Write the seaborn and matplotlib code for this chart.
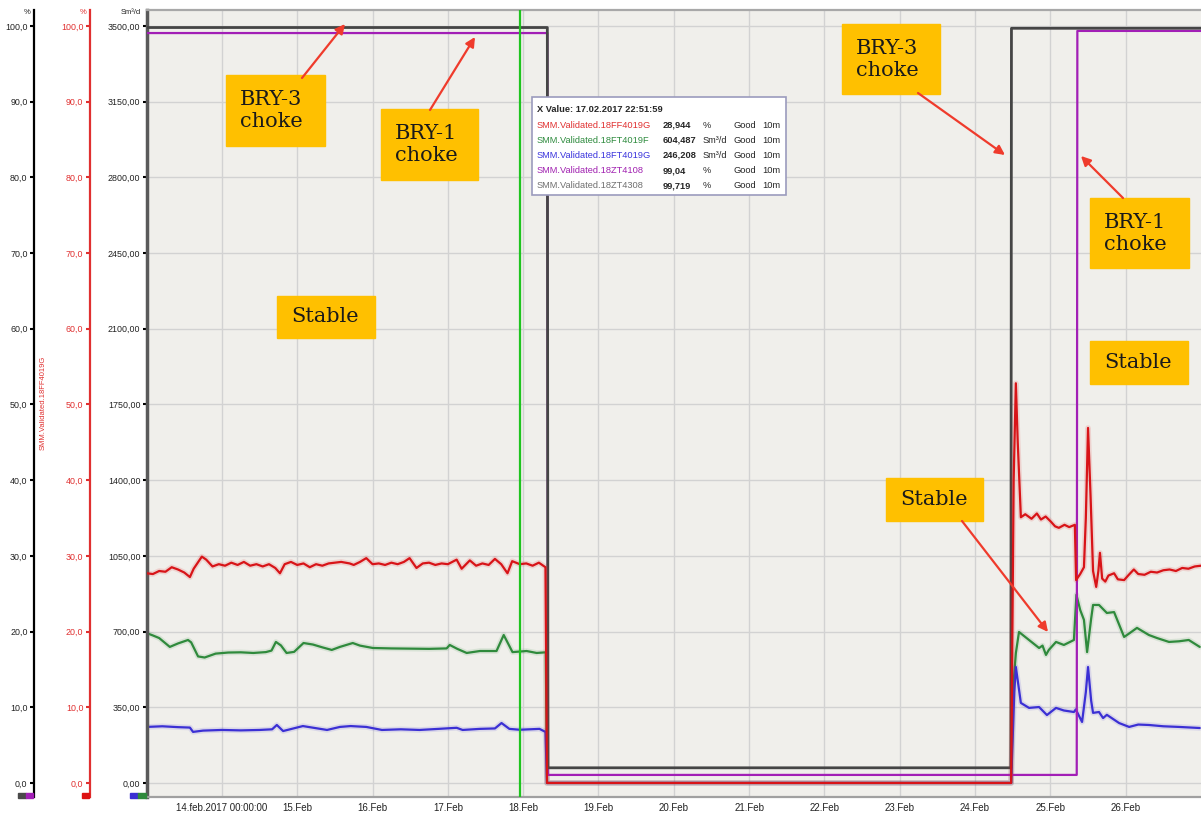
import pandas as pd
import matplotlib
matplotlib.use("Agg")
import matplotlib.pyplot as plt
from matplotlib.patches import Rectangle, FancyArrowPatch
import seaborn as sns

W_PX, H_PX = 1201, 814
START = pd.Timestamp("2017-02-13 00:00")
CURSOR = pd.Timestamp("2017-02-17 22:51:59")

# (hours since 13.02.2017 00:00, value)
red_pct = [
    (0, 27.7), (2, 27.6), (4, 28.0), (6, 27.9), (8, 28.5), (10, 28.2), (12, 27.8),
    (13.8, 27.2), (15, 28.3), (17.6, 29.9), (19, 29.5), (21, 28.6), (23, 28.9),
    (25, 28.7), (27, 29.1), (29, 28.8), (31, 29.2), (33, 28.7), (35, 28.9),
    (37, 28.6), (39, 28.9), (41, 28.4), (42.5, 27.7), (44, 28.9), (46, 29.2),
    (48, 28.8), (50, 29.0), (52, 28.5), (54, 28.9), (56, 28.7), (58, 29.0),
    (60, 29.1), (62, 29.2), (64.7, 29.0), (66, 28.8), (68, 29.2), (70, 29.7),
    (72, 28.9), (74, 29.0), (76, 28.8), (78, 29.1), (80, 28.9), (82, 29.2),
    (83.8, 29.7), (86, 28.4), (88, 29.0), (90, 29.1), (92, 28.8), (94, 29.0),
    (96, 28.9), (98.8, 29.5), (100.4, 28.3), (103, 29.4), (105, 28.7), (107, 29.0),
    (109, 28.8), (111, 29.6), (113, 28.9), (115, 27.7), (116.5, 29.3), (118.9, 28.9),
    (121, 29.0), (123, 28.7), (125, 29.1), (127.1, 28.5), (127.6, 0.0),
    (275.5, 0.0), (276.3, 40.0), (277.0, 52.8), (277.6, 45.0), (278.6, 35.1),
    (280, 35.5), (282, 34.9), (283.7, 35.6), (285, 34.8), (286.5, 35.2),
    (288.2, 34.5), (289.5, 33.9), (290.7, 33.7), (292.5, 34.1), (294, 33.8),
    (295.8, 34.1), (296.2, 26.8), (297.5, 27.6), (298.7, 28.5), (299.3, 35.0),
    (300.0, 46.9), (300.8, 38.0), (301.6, 28.0), (302.6, 25.9), (303.3, 28.0),
    (303.8, 30.4), (304.5, 27.0), (305.5, 26.6), (306.5, 27.4), (308.3, 27.7),
    (309.5, 26.9), (311.5, 26.8), (313, 27.5), (314.6, 28.2), (316, 27.6),
    (318, 27.5), (320, 27.9), (322, 27.8), (324, 28.1), (326, 28.2), (328, 28.0),
    (330, 28.4), (332, 28.3), (334, 28.6), (336, 28.7),
]

green_flow = [
    (0, 693), (2, 682), (4, 670), (7.4, 629), (10, 645), (13.2, 661), (14.2, 650),
    (16.4, 585), (18.5, 580), (22, 598), (26, 603), (30, 604), (34, 601), (38, 605),
    (39.8, 612), (41.2, 652), (42.8, 636), (44.6, 601), (47, 606), (50, 647),
    (53, 640), (56, 627), (59, 615), (61.6, 629), (65.7, 647), (68, 635),
    (72.1, 624), (78, 622), (84, 621), (90, 620), (95.6, 622), (96.6, 638),
    (99, 620), (102, 601), (106.2, 610), (111.5, 610), (113.8, 684), (116.6, 605),
    (121.1, 610), (124.3, 601), (127.2, 604), (127.6, 0),
    (275.5, 0), (276.2, 450), (277, 600), (278, 698), (281.2, 661), (284.4, 624),
    (285.5, 635), (286.6, 592), (287.5, 615), (289.8, 652), (292.3, 638),
    (295.5, 661), (296.3, 870), (297.5, 800), (298.7, 754), (299.7, 605),
    (301, 760), (301.6, 823), (303.5, 823), (306, 786), (308.3, 790), (311.5, 675),
    (313, 690), (315.6, 717), (319.4, 684), (322, 670), (325.8, 652), (329, 655),
    (332.1, 661), (335.6, 629),
]

blue_flow = [
    (0, 259), (5, 262), (10, 258), (13.8, 256), (14.8, 236), (18, 242), (24, 245),
    (30, 243), (36, 245), (40, 248), (41.5, 268), (43.5, 240), (49.8, 263),
    (57.5, 245), (61.6, 259), (65, 263), (70, 259), (75, 245), (81, 248), (87, 245),
    (93, 250), (98.8, 255), (100.7, 245), (106.2, 250), (111, 252), (113.1, 277),
    (115.6, 250), (118.9, 246), (125.2, 250), (127.1, 236), (127.6, 0),
    (275.5, 0), (276.5, 420), (277, 536), (278.6, 370), (281.2, 347), (284.4, 351),
    (286.9, 314), (289.8, 347), (292.3, 335), (295.5, 328), (296.1, 340),
    (298.1, 282), (299.3, 420), (300.0, 536), (301, 380), (301.6, 324),
    (303.5, 328), (304.8, 300), (306, 315), (309.9, 277), (313.1, 259), (316, 270),
    (319.4, 268), (324, 262), (329, 259), (335.6, 254),
]

bry3_choke = [(0, 99.8), (127.7, 99.8), (127.9, 2.0), (275.4, 2.0), (275.6, 99.7), (336, 99.7)]
bry1_choke = [(0, 99.07), (127.7, 99.07), (127.9, 1.06), (296.4, 1.06), (296.6, 99.35), (336, 99.35)]

day_ticks = pd.date_range("2017-02-14", "2017-02-26", freq="D")
day_labels = ["14.feb.2017 00:00:00"] + [f"{d.day}.Feb" for d in day_ticks[1:]]
flow_ticks = list(range(0, 3501, 350))
pct_ticks = list(range(0, 101, 10))

tooltip_rows = [
    ("SMM.Validated.18FF4019G", "28,944", "%", "#e03030"),
    ("SMM.Validated.18FT4019F", "604,487", "Sm³/d", "#2e8b3e"),
    ("SMM.Validated.18FT4019G", "246,208", "Sm³/d", "#3a34dd"),
    ("SMM.Validated.18ZT4108", "99,04", "%", "#a020b0"),
    ("SMM.Validated.18ZT4308", "99,719", "%", "#707070"),
]


def to_frame(pairs):
    df = pd.DataFrame(pairs, columns=["h", "v"])
    df["t"] = START + pd.to_timedelta(df["h"], unit="h")
    return df


def fx(px):
    return px / W_PX


def fy(py):
    return 1 - py / H_PX


sns.set_theme(style="white")
plt.rcParams["font.family"] = ["Liberation Sans", "DejaVu Sans"]

fig = plt.figure(figsize=(W_PX / 100, H_PX / 100), dpi=100)
ax = fig.add_axes([fx(146.6), fy(797), 1 - fx(146.6), (797 - 10) / H_PX])
ax.set_facecolor("#f0efeb")
ax_k = ax.twinx()
ax_r = ax.twinx()

# flows (Sm3/d)
for pairs, col in [(green_flow, "#2f8a3c"), (blue_flow, "#3b30d4")]:
    d = to_frame(pairs)
    sns.lineplot(data=d, x="t", y="v", ax=ax, color=col, lw=4, alpha=0.12,
                 estimator=None, sort=False)
    sns.lineplot(data=d, x="t", y="v", ax=ax, color=col, lw=1.6,
                 estimator=None, sort=False)

# choke positions (%)
sns.lineplot(data=to_frame(bry1_choke), x="t", y="v", ax=ax_k, color="#a21fb6",
             lw=1.6, estimator=None, sort=False)
sns.lineplot(data=to_frame(bry3_choke), x="t", y="v", ax=ax_k, color="#454545",
             lw=2.0, estimator=None, sort=False)

# red %
d = to_frame(red_pct)
sns.lineplot(data=d, x="t", y="v", ax=ax_r, color="#e03030", lw=4, alpha=0.15,
             estimator=None, sort=False)
sns.lineplot(data=d, x="t", y="v", ax=ax_r, color="#d81418", lw=1.6,
             estimator=None, sort=False)
ax_r.axvline(CURSOR, color="#1fc41f", lw=1.6, zorder=10)

xmax = START + pd.Timedelta(days=14)
ylo, yhi = -65, 3574
for a in (ax, ax_k, ax_r):
    a.set_xlim(START, xmax)
    a.set_xlabel("")
    a.set_ylabel("")
ax.set_ylim(ylo, yhi)
ax_k.set_ylim(ylo / 35, yhi / 35)
ax_r.set_ylim(ylo / 35, yhi / 35)

ax.set_axisbelow(True)
ax.grid(True, color="#d2d2d2", lw=1)
ax.set_xticks(day_ticks)
ax.set_xticklabels(day_labels)
ax.set_yticks(flow_ticks)
ax.set_yticklabels([f"{v:.2f}".replace(".", ",") for v in flow_ticks])
ax.tick_params(axis="x", length=0, pad=4.5, labelsize=7, colors="#222222")
ax.tick_params(axis="y", left=True, length=3, width=1.5, pad=1.5, labelsize=6.4,
               color="black", labelcolor="#222222")
ax.spines["left"].set_color("#5a5a5a")
ax.spines["left"].set_linewidth(2.5)
ax.spines["top"].set_color("#a8a8a8")
ax.spines["top"].set_linewidth(1.6)
ax.spines["bottom"].set_color("#a0a0a0")
ax.spines["bottom"].set_linewidth(1.6)
ax.spines["right"].set_visible(False)

for a, pos, col, lab in [(ax_k, -0.107, "black", "#222222"), (ax_r, -0.054, "#e03030", "#e03030")]:
    a.yaxis.tick_left()
    a.yaxis.set_label_position("left")
    for s in ("right", "top", "bottom"):
        a.spines[s].set_visible(False)
    a.spines["left"].set_visible(True)
    a.spines["left"].set_position(("axes", pos))
    a.spines["left"].set_color(col)
    a.spines["left"].set_linewidth(1.6)
    a.set_yticks(pct_ticks)
    a.set_yticklabels([f"{v:.1f}".replace(".", ",") for v in pct_ticks])
    a.tick_params(axis="y", length=3, width=1.5, pad=1.5, labelsize=6.4,
                  color=col, labelcolor=lab)
    a.grid(False)

# unit labels and axis name
fig.text(fx(27), fy(13), "%", fontsize=5.5, ha="center", va="center", color="#222222")
fig.text(fx(83), fy(13), "%", fontsize=5.5, ha="center", va="center", color="#e03030")
fig.text(fx(131), fy(13), "Sm³/d", fontsize=5.5, ha="center", va="center", color="#222222")
fig.text(fx(43), fy(403), "SMM.Validated.18FF4019G", rotation=90, fontsize=5.5,
         ha="center", va="center", color="#e03030")

# colour keys under the axes
for x0, x1, col in [(18, 26, "#4a4a4a"), (26, 33, "#a21fb6"), (82, 89, "#dd1111"),
                    (130, 138, "#3b30d4"), (138, 146, "#2f8a3c")]:
    fig.add_artist(Rectangle((fx(x0), fy(798)), (x1 - x0) / W_PX, 5 / H_PX,
                             transform=fig.transFigure, color=col, zorder=6))

# tooltip box
fig.add_artist(Rectangle((fx(532), fy(195)), (786 - 532) / W_PX, (195 - 97) / H_PX,
                         transform=fig.transFigure, facecolor="white",
                         edgecolor="#9b9bbd", lw=1.2, zorder=7))
fig.text(fx(537), fy(110), "X Value: 17.02.2017 22:51:59", fontsize=6.7,
         weight="bold", va="center", zorder=8)
for i, (name, val, unit, col) in enumerate(tooltip_rows):
    yy = fy(125 + i * 15.2)
    fig.text(fx(537), yy, name, fontsize=6.7, color=col, va="center", zorder=8)
    fig.text(fx(663), yy, val, fontsize=6.7, weight="bold", va="center", zorder=8)
    fig.text(fx(703), yy, unit, fontsize=6.7, va="center", zorder=8)
    fig.text(fx(733), yy, "Good", fontsize=6.7, va="center", zorder=8)
    fig.text(fx(762), yy, "10m", fontsize=6.7, va="center", zorder=8)

# annotation boxes and arrows
boxes = [
    (226, 75, 325, 146, "BRY-3\nchoke"),
    (381, 109, 478, 180, "BRY-1\nchoke"),
    (277, 296, 375, 338, "Stable"),
    (842, 24, 940, 94, "BRY-3\nchoke"),
    (1090, 198, 1189, 268, "BRY-1\nchoke"),
    (1090, 341, 1188, 384, "Stable"),
    (886, 478, 983, 521, "Stable"),
]
for x0, y0, x1, y1, txt in boxes:
    fig.add_artist(Rectangle((fx(x0), fy(y1)), (x1 - x0) / W_PX, (y1 - y0) / H_PX,
                             transform=fig.transFigure, color="#ffc000", zorder=8))
    fig.text(fx(x0 + 14), fy((y0 + y1) / 2), txt, fontsize=15, family="DejaVu Serif",
             ha="left", va="center", linespacing=1.2, color="#1a1a1a", zorder=9)

arrows = [((302, 78), (345, 24)), ((430, 110), (475, 37)), ((918, 93), (1005, 155)),
          ((1123, 198), (1081, 156)), ((962, 521), (1048, 632))]
for (tx, ty), (hx, hy) in arrows:
    fig.add_artist(FancyArrowPatch((fx(tx), fy(ty)), (fx(hx), fy(hy)),
                                   transform=fig.transFigure, arrowstyle="-|>",
                                   mutation_scale=14, color="#ef3b2c", lw=1.6,
                                   shrinkA=0, shrinkB=0, zorder=9))

fig.savefig("out.png", dpi=100)
